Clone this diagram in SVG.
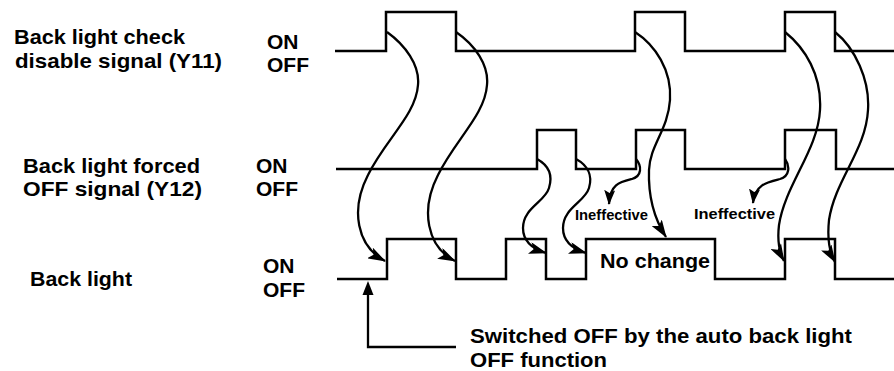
<svg xmlns="http://www.w3.org/2000/svg" width="894" height="371" viewBox="0 0 894 371">
<style>
text{font-family:"Liberation Sans",Arial,Helvetica,sans-serif;font-weight:bold;fill:#000}
.lbl{font-size:21px}
.sm{font-size:15px}
.wave{fill:none;stroke:#000;stroke-width:2.5;stroke-linejoin:miter}
.cv{fill:none;stroke:#000;stroke-width:2.3}
</style>
<defs>
<marker id="ah" markerWidth="18" markerHeight="12" refX="17" refY="6" orient="auto" markerUnits="userSpaceOnUse">
<path d="M0,0 L18,6 L0,12 L4,6 z" fill="#000"/>
</marker>
<marker id="ah2" markerWidth="15" markerHeight="11" refX="14" refY="5.5" orient="auto" markerUnits="userSpaceOnUse">
<path d="M0,0 L15,5.5 L0,11 L3,5.5 z" fill="#000"/>
</marker>
</defs>
<rect width="894" height="371" fill="#fff"/>

<g id="y11">
<text class="lbl" x="14" y="44" textLength="171" lengthAdjust="spacingAndGlyphs">Back light check</text>
<text class="lbl" x="15" y="68" textLength="207" lengthAdjust="spacingAndGlyphs">disable signal (Y11)</text>
<text class="lbl" x="267" y="49">ON</text>
<text class="lbl" x="267" y="72">OFF</text>
<path class="wave" d="M335,51 H386 V12 H456 V51 H635 V12 H685 V51 H785 V12 H835 V51 H894"/>
</g>

<g id="y12">
<text class="lbl" x="23" y="173" textLength="177" lengthAdjust="spacingAndGlyphs">Back light forced</text>
<text class="lbl" x="23" y="196" textLength="179" lengthAdjust="spacingAndGlyphs">OFF signal (Y12)</text>
<text class="lbl" x="256" y="173">ON</text>
<text class="lbl" x="256" y="196">OFF</text>
<path class="wave" d="M336,169 H537 V130 H576 V169 H636 V130 H685 V169 H785 V130 H836 V169 H894"/>
</g>

<g id="backlight">
<text class="lbl" x="30" y="286" textLength="102" lengthAdjust="spacingAndGlyphs">Back light</text>
<text class="lbl" x="263" y="273">ON</text>
<text class="lbl" x="263" y="297">OFF</text>
<path class="wave" d="M337,279 H387 V239 H456 V279 H506 V239 H546 V279 H586 V239 H715 V279 H785 V239 H835 V279 H894"/>
<text class="lbl" x="600" y="268" textLength="110" lengthAdjust="spacingAndGlyphs">No change</text>
</g>

<g id="note">
<text class="lbl" x="470" y="343" textLength="382" lengthAdjust="spacingAndGlyphs">Switched OFF by the auto back light</text>
<text class="lbl" x="470" y="367" textLength="137" lengthAdjust="spacingAndGlyphs">OFF function</text>
</g>

<g id="ineffective-labels">
<text class="sm" x="575" y="220" textLength="73" lengthAdjust="spacingAndGlyphs">Ineffective</text>
<text class="sm" x="694" y="219" textLength="81" lengthAdjust="spacingAndGlyphs">Ineffective</text>
</g>

<g id="connectors">
<path class="cv" marker-end="url(#ah)" d="M387,32 C405,45 420,65 418,85 C416,115 385,140 368,175 C350,210 357,246 385,261"/>
<path class="cv" marker-end="url(#ah)" d="M456,32 C475,45 489,65 487,85 C485,115 455,140 438,175 C420,210 427,247 455,261"/>
<path class="cv" marker-end="url(#ah)" d="M635,32 C655,45 672,70 670,100 C668,130 650,145 649,170 C648,200 655,220 666,237"/>
<path class="cv" marker-end="url(#ah)" d="M785,32 C805,48 822,75 820,110 C818,150 785,185 779,225 C777,242 779,252 784,261"/>
<path class="cv" marker-end="url(#ah)" d="M835,32 C855,48 870,80 868,110 C866,150 835,180 829,220 C827,240 829,252 835,262"/>
<path class="cv" marker-end="url(#ah)" d="M537,159 C548,165 553,175 549,188 C545,202 523,208 523,228 C523,242 533,249 546,253"/>
<path class="cv" marker-end="url(#ah)" d="M576,159 C587,165 593,175 589,188 C585,202 563,208 563,228 C563,242 573,249 586,253"/>
<path class="cv" marker-end="url(#ah2)" d="M636,159 C642,166 642,176 632,179 C620,182 610,184 609,204"/>
<path class="cv" marker-end="url(#ah2)" d="M785,159 C790,166 790,176 780,179 C768,182 755,184 753,203"/>
<path class="cv" d="M456,347 H368 V292"/>
<polygon points="368,281 362.5,295 373.5,295" fill="#000"/>
</g>
</svg>
